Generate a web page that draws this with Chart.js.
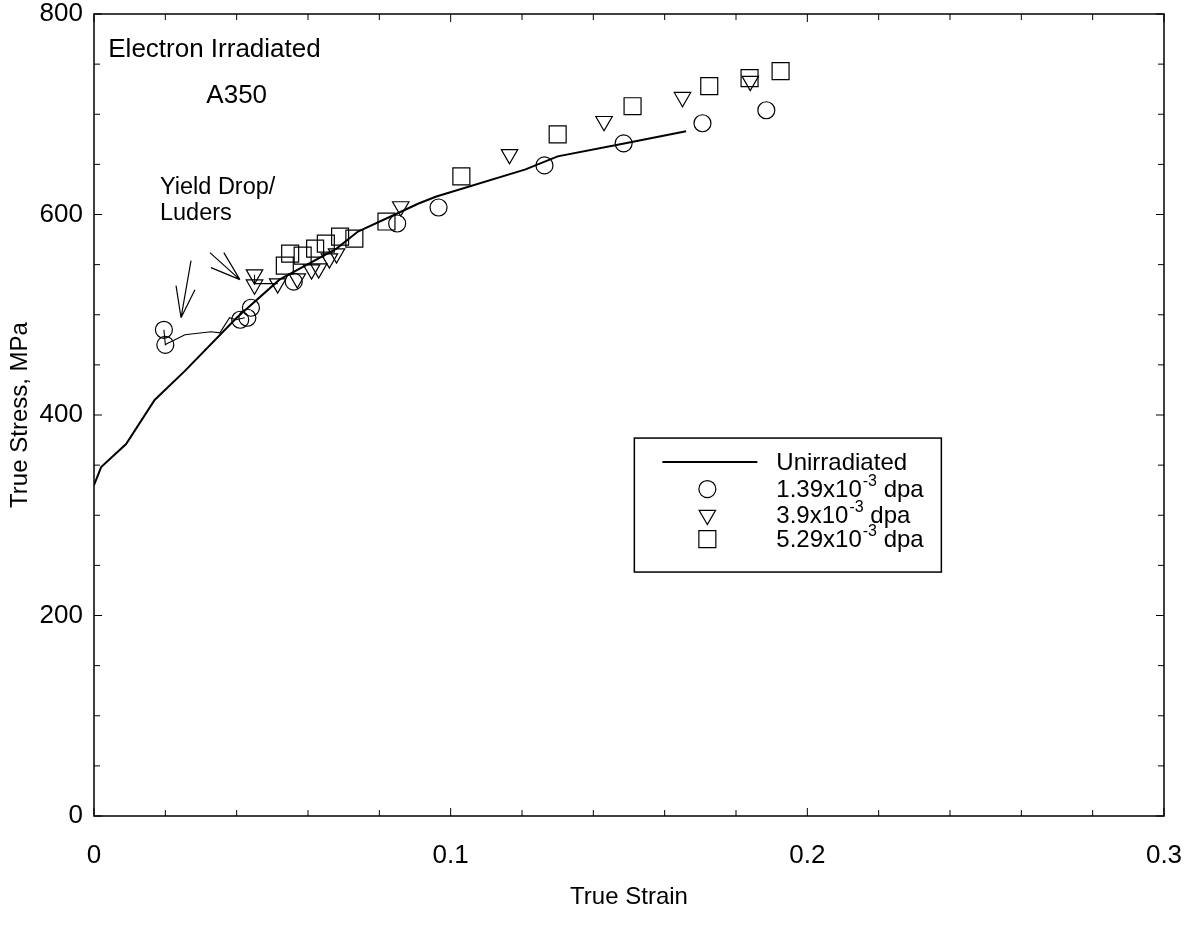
<!DOCTYPE html>
<html>
<head>
<meta charset="utf-8">
<title>True stress vs true strain</title>
<script src="https://cdn.jsdelivr.net/npm/chart.js@4.4.1/dist/chart.umd.min.js"></script>
<style>
  html, body { margin: 0; padding: 0; background: #fff; }
  #wrap { width: 1196px; height: 934px; }
</style>
</head>
<body>
<div id="wrap"><canvas id="chart" width="1196" height="934"></canvas></div>
<script>
// Values. x = true strain, y = true stress (MPa).
const unirrStrain = [0, 0.002, 0.009, 0.017, 0.0255, 0.040, 0.052, 0.068, 0.074, 0.085, 0.091, 0.096, 0.121, 0.130, 0.149, 0.166];
const unirrStress = [330, 348, 371, 415, 444, 497, 535, 566, 583, 601, 611, 618, 645, 658, 671, 683];

const dpa139Strain = [0.0196, 0.0200, 0.041, 0.043, 0.044, 0.056, 0.085, 0.0966, 0.1263, 0.1485, 0.1706, 0.1885];
const dpa139Stress = [485, 470, 495, 497, 507, 533, 591, 607, 649, 671, 691, 704];

const dpa39Strain = [0.045, 0.045, 0.0515, 0.057, 0.061, 0.063, 0.066, 0.068, 0.086, 0.1165, 0.143, 0.165, 0.184];
const dpa39Stress = [540, 530, 531, 536, 545, 546, 556, 561, 608, 660, 693, 717, 733];

const dpa529Strain = [0.0535, 0.055, 0.0585, 0.062, 0.065, 0.069, 0.073, 0.082, 0.103, 0.130, 0.151, 0.1725, 0.1838, 0.1925];
const dpa529Stress = [549, 561, 559, 566, 571, 578, 576, 593, 638, 680, 708, 728, 736, 743];

// thin yield drop / Luders traces
const luders1Strain = [0.0196, 0.0200, 0.0204, 0.0227, 0.0255, 0.0328, 0.0353, 0.038, 0.0398, 0.0423];
const luders1Stress = [485, 470, 471, 475, 480, 483, 482, 497, 495, 497];
const luders2Strain = [0.045, 0.045, 0.0515];
const luders2Stress = [540, 531, 531];

const xTicks = [0, 0.1, 0.2, 0.3];
const yTicks = [0, 200, 400, 600, 800];

const legendLabels = [
  ['Unirradiated'],
  ['1.39x10', '-3', ' dpa'],
  ['3.9x10', '-3', ' dpa'],
  ['5.29x10', '-3', ' dpa']
];

// arrows pointing at the yield drops, in axis units
const arrowLines = [
  [[0.0272, 554], [0.0244, 497]],
  [[0.0230, 529], [0.0244, 497]],
  [[0.0283, 525], [0.0244, 497]],
  [[0.0325, 562], [0.0409, 535]],
  [[0.0328, 547], [0.0409, 535]],
  [[0.0364, 562], [0.0409, 535]]
];

const FONT = '"Liberation Sans", Arial, Helvetica, sans-serif';

function pts(xs, ys) {
  return xs.map((x, i) => ({x: x, y: ys[i]}));
}

const frame = {
  id: 'frame',
  afterDatasetsDraw(chart) {
    const ctx = chart.ctx;
    const a = chart.chartArea;
    const xs = chart.scales.x;
    const ys = chart.scales.y;
    ctx.save();
    ctx.strokeStyle = '#000';
    ctx.lineWidth = 1.5;
    ctx.strokeRect(a.left, a.top, a.right - a.left, a.bottom - a.top);
    ctx.lineWidth = 1;
    ctx.beginPath();
    // inward ticks on all four sides
    for (let i = 0; i <= 15; i++) {
      const px = xs.getPixelForValue(i * 0.02);
      const len = i % 5 === 0 ? 8 : 6;
      ctx.moveTo(px, a.bottom); ctx.lineTo(px, a.bottom - len);
      ctx.moveTo(px, a.top); ctx.lineTo(px, a.top + len);
    }
    for (let i = 0; i <= 16; i++) {
      const py = ys.getPixelForValue(i * 50);
      const len = i % 4 === 0 ? 8 : 6;
      ctx.moveTo(a.left, py); ctx.lineTo(a.left + len, py);
      ctx.moveTo(a.right, py); ctx.lineTo(a.right - len, py);
    }
    ctx.stroke();
    ctx.restore();
  },
  afterDraw(chart) {
    const ctx = chart.ctx;
    const xs = chart.scales.x;
    const ys = chart.scales.y;
    const X = v => xs.getPixelForValue(v);
    const Y = v => ys.getPixelForValue(v);
    ctx.save();
    ctx.fillStyle = '#000';
    ctx.strokeStyle = '#000';
    ctx.textBaseline = 'alphabetic';
    ctx.textAlign = 'left';

    ctx.font = '26px ' + FONT;
    ctx.fillText('Electron Irradiated', X(0.004), Y(757));
    ctx.fillText('A350', X(0.0315), Y(711));
    ctx.font = '23.5px ' + FONT;
    ctx.fillText('Yield Drop/', X(0.0185), Y(620));
    ctx.fillText('Luders', X(0.0185), Y(595));

    ctx.lineWidth = 1.2;
    ctx.beginPath();
    arrowLines.forEach(l => {
      ctx.moveTo(X(l[0][0]), Y(l[0][1]));
      ctx.lineTo(X(l[1][0]), Y(l[1][1]));
    });
    ctx.stroke();

    // legend box
    const lx = X(0.1515), ly = Y(377);
    const lw = 307, lh = 134;
    ctx.lineWidth = 1.5;
    ctx.strokeRect(lx, ly, lw, lh);
    const rowY = [24, 51, 77, 101];
    const markX = lx + 73;
    const textX = lx + 142;
    chart.data.datasets.slice(0, 4).forEach((ds, i) => {
      const cy = ly + rowY[i];
      if (i === 0) {
        ctx.lineWidth = 2;
        ctx.beginPath();
        ctx.moveTo(lx + 28, cy); ctx.lineTo(lx + 123, cy);
        ctx.stroke();
      } else {
        ctx.lineWidth = 1.2;
        ctx.fillStyle = 'rgba(0,0,0,0)';
        Chart.helpers.drawPoint(ctx, {
          pointStyle: ds.pointStyle,
          rotation: ds.pointRotation || 0,
          radius: ds.pointRadius,
          borderWidth: 1.2
        }, markX, cy);
        ctx.fillStyle = '#000';
      }
      const parts = legendLabels[i];
      let tx = textX;
      ctx.font = '24px ' + FONT;
      ctx.fillText(parts[0], tx, cy + 8);
      tx += ctx.measureText(parts[0]).width;
      if (parts.length > 1) {
        ctx.font = '16px ' + FONT;
        ctx.fillText(parts[1], tx + 1, cy - 3);
        tx += ctx.measureText(parts[1]).width + 1;
        ctx.font = '24px ' + FONT;
        ctx.fillText(parts[2], tx, cy + 8);
      }
    });
    ctx.restore();
  }
};

const markerStyle = {
  showLine: false,
  borderColor: '#000',
  backgroundColor: 'rgba(0,0,0,0)',
  pointBorderWidth: 1.2,
  pointBackgroundColor: 'rgba(0,0,0,0)'
};

new Chart(document.getElementById('chart'), {
  type: 'scatter',
  data: {
    datasets: [
      {
        label: 'Unirradiated',
        data: pts(unirrStrain, unirrStress),
        showLine: true,
        borderColor: '#000',
        borderWidth: 2,
        pointRadius: 0,
        tension: 0
      },
      Object.assign({label: '1.39x10-3 dpa', data: pts(dpa139Strain, dpa139Stress),
        pointStyle: 'circle', pointRadius: 8.5}, markerStyle),
      Object.assign({label: '3.9x10-3 dpa', data: pts(dpa39Strain, dpa39Stress),
        pointStyle: 'triangle', pointRotation: 180, pointRadius: 9.5}, markerStyle),
      Object.assign({label: '5.29x10-3 dpa', data: pts(dpa529Strain, dpa529Stress),
        pointStyle: 'rect', pointRadius: 12}, markerStyle),
      {
        label: 'luders1',
        data: pts(luders1Strain, luders1Stress),
        showLine: true, borderColor: '#000', borderWidth: 1.1, pointRadius: 0
      },
      {
        label: 'luders2',
        data: pts(luders2Strain, luders2Stress),
        showLine: true, borderColor: '#000', borderWidth: 1.1, pointRadius: 0
      }
    ]
  },
  options: {
    responsive: false,
    animation: false,
    devicePixelRatio: 1,
    layout: {padding: {top: 14, right: 32, left: 0, bottom: 0}},
    plugins: {
      legend: {display: false},
      tooltip: {enabled: false}
    },
    scales: {
      x: {
        type: 'linear',
        min: 0, max: 0.3,
        afterFit: s => { s.height = 118; s.paddingLeft = 0; s.paddingRight = 0; },
        afterBuildTicks: s => { s.ticks = xTicks.map(v => ({value: v})); },
        grid: {display: false, drawTicks: false},
        border: {display: false},
        ticks: {
          color: '#000', padding: 24,
          font: {family: FONT, size: 26},
          callback: v => String(v)
        },
        title: {
          display: true, text: 'True Strain', color: '#000',
          font: {family: FONT, size: 24},
          padding: {top: 0, bottom: 22}
        }
      },
      y: {
        type: 'linear',
        min: 0, max: 800,
        afterFit: s => { s.width = 94; s.paddingTop = 0; s.paddingBottom = 0; },
        afterBuildTicks: s => { s.ticks = yTicks.map(v => ({value: v})); },
        grid: {display: false, drawTicks: false},
        border: {display: false},
        ticks: {
          color: '#000', padding: 11,
          font: {family: FONT, size: 26}
        },
        title: {
          display: true, text: 'True Stress, MPa', color: '#000',
          font: {family: FONT, size: 24},
          padding: {top: 6, bottom: 0}
        }
      }
    }
  },
  plugins: [frame]
});
</script>
</body>
</html>
